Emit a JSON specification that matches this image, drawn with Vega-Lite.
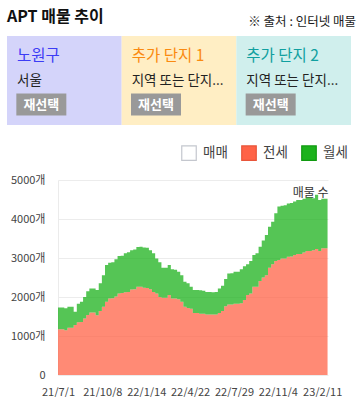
{
  "$schema": "https://vega.github.io/schema/vega-lite/v6.json",
  "padding": {"left": 7, "top": 8, "right": 4, "bottom": 0},
  "title": {"text": "APT 매물 추이", "anchor": "start", "fontSize": 16, "fontWeight": "bold", "color": "#111111", "offset": -9},
  "config": {
    "font": "Noto Sans CJK KR",
    "view": {"stroke": null},
    "concat": {"spacing": 20},
    "title": {"font": "Noto Sans CJK KR"}
  },
  "resolve": {"scale": {"color": "independent"}, "legend": {"color": "independent"}},
  "datasets": {
    "header": [
      {"box": "노원구", "row": "name", "label": "노원구"},
      {"box": "노원구", "row": "sub", "label": "서울"},
      {"box": "노원구", "row": "btn", "label": "재선택"},
      {"box": "추가 단지 1", "row": "name", "label": "추가 단지 1"},
      {"box": "추가 단지 1", "row": "sub", "label": "지역 또는 단지..."},
      {"box": "추가 단지 1", "row": "btn", "label": "재선택"},
      {"box": "추가 단지 2", "row": "name", "label": "추가 단지 2"},
      {"box": "추가 단지 2", "row": "sub", "label": "지역 또는 단지..."},
      {"box": "추가 단지 2", "row": "btn", "label": "재선택"}
    ],
    "listings": [
      {"d": "2021-07-01", "t": "전세", "n": 1170}, {"d": "2021-07-01", "t": "월세", "n": 560},
      {"d": "2021-07-08", "t": "전세", "n": 1170}, {"d": "2021-07-08", "t": "월세", "n": 560},
      {"d": "2021-07-15", "t": "전세", "n": 1150}, {"d": "2021-07-15", "t": "월세", "n": 560},
      {"d": "2021-07-22", "t": "전세", "n": 1210}, {"d": "2021-07-22", "t": "월세", "n": 540},
      {"d": "2021-07-29", "t": "전세", "n": 1210}, {"d": "2021-07-29", "t": "월세", "n": 540},
      {"d": "2021-08-05", "t": "전세", "n": 1280}, {"d": "2021-08-05", "t": "월세", "n": 340},
      {"d": "2021-08-12", "t": "전세", "n": 1350}, {"d": "2021-08-12", "t": "월세", "n": 480},
      {"d": "2021-08-19", "t": "전세", "n": 1360}, {"d": "2021-08-19", "t": "월세", "n": 520},
      {"d": "2021-08-26", "t": "전세", "n": 1450}, {"d": "2021-08-26", "t": "월세", "n": 550},
      {"d": "2021-09-02", "t": "전세", "n": 1540}, {"d": "2021-09-02", "t": "월세", "n": 610},
      {"d": "2021-09-09", "t": "전세", "n": 1600}, {"d": "2021-09-09", "t": "월세", "n": 620},
      {"d": "2021-09-16", "t": "전세", "n": 1600}, {"d": "2021-09-16", "t": "월세", "n": 620},
      {"d": "2021-09-23", "t": "전세", "n": 1530}, {"d": "2021-09-23", "t": "월세", "n": 650},
      {"d": "2021-09-30", "t": "전세", "n": 1640}, {"d": "2021-09-30", "t": "월세", "n": 710},
      {"d": "2021-10-07", "t": "전세", "n": 1750}, {"d": "2021-10-07", "t": "월세", "n": 810},
      {"d": "2021-10-14", "t": "전세", "n": 1880}, {"d": "2021-10-14", "t": "월세", "n": 940},
      {"d": "2021-10-21", "t": "전세", "n": 1960}, {"d": "2021-10-21", "t": "월세", "n": 920},
      {"d": "2021-10-28", "t": "전세", "n": 1970}, {"d": "2021-10-28", "t": "월세", "n": 920},
      {"d": "2021-11-04", "t": "전세", "n": 2010}, {"d": "2021-11-04", "t": "월세", "n": 960},
      {"d": "2021-11-11", "t": "전세", "n": 2090}, {"d": "2021-11-11", "t": "월세", "n": 960},
      {"d": "2021-11-18", "t": "전세", "n": 2100}, {"d": "2021-11-18", "t": "월세", "n": 960},
      {"d": "2021-11-25", "t": "전세", "n": 2120}, {"d": "2021-11-25", "t": "월세", "n": 1000},
      {"d": "2021-12-02", "t": "전세", "n": 2130}, {"d": "2021-12-02", "t": "월세", "n": 1020},
      {"d": "2021-12-09", "t": "전세", "n": 2190}, {"d": "2021-12-09", "t": "월세", "n": 1010},
      {"d": "2021-12-16", "t": "전세", "n": 2200}, {"d": "2021-12-16", "t": "월세", "n": 1020},
      {"d": "2021-12-23", "t": "전세", "n": 2260}, {"d": "2021-12-23", "t": "월세", "n": 1020},
      {"d": "2021-12-30", "t": "전세", "n": 2260}, {"d": "2021-12-30", "t": "월세", "n": 1030},
      {"d": "2022-01-06", "t": "전세", "n": 2240}, {"d": "2022-01-06", "t": "월세", "n": 1030},
      {"d": "2022-01-13", "t": "전세", "n": 2230}, {"d": "2022-01-13", "t": "월세", "n": 1030},
      {"d": "2022-01-20", "t": "전세", "n": 2200}, {"d": "2022-01-20", "t": "월세", "n": 1000},
      {"d": "2022-01-27", "t": "전세", "n": 2130}, {"d": "2022-01-27", "t": "월세", "n": 990},
      {"d": "2022-02-03", "t": "전세", "n": 2090}, {"d": "2022-02-03", "t": "월세", "n": 900},
      {"d": "2022-02-10", "t": "전세", "n": 2000}, {"d": "2022-02-10", "t": "월세", "n": 890},
      {"d": "2022-02-17", "t": "전세", "n": 1980}, {"d": "2022-02-17", "t": "월세", "n": 770},
      {"d": "2022-02-24", "t": "전세", "n": 1980}, {"d": "2022-02-24", "t": "월세", "n": 770},
      {"d": "2022-03-03", "t": "전세", "n": 2050}, {"d": "2022-03-03", "t": "월세", "n": 770},
      {"d": "2022-03-10", "t": "전세", "n": 1960}, {"d": "2022-03-10", "t": "월세", "n": 750},
      {"d": "2022-03-17", "t": "전세", "n": 1960}, {"d": "2022-03-17", "t": "월세", "n": 740},
      {"d": "2022-03-24", "t": "전세", "n": 1940}, {"d": "2022-03-24", "t": "월세", "n": 710},
      {"d": "2022-03-31", "t": "전세", "n": 1880}, {"d": "2022-03-31", "t": "월세", "n": 680},
      {"d": "2022-04-07", "t": "전세", "n": 1750}, {"d": "2022-04-07", "t": "월세", "n": 640},
      {"d": "2022-04-14", "t": "전세", "n": 1720}, {"d": "2022-04-14", "t": "월세", "n": 630},
      {"d": "2022-04-21", "t": "전세", "n": 1700}, {"d": "2022-04-21", "t": "월세", "n": 560},
      {"d": "2022-04-28", "t": "전세", "n": 1590}, {"d": "2022-04-28", "t": "월세", "n": 590},
      {"d": "2022-05-05", "t": "전세", "n": 1590}, {"d": "2022-05-05", "t": "월세", "n": 590},
      {"d": "2022-05-12", "t": "전세", "n": 1570}, {"d": "2022-05-12", "t": "월세", "n": 600},
      {"d": "2022-05-19", "t": "전세", "n": 1570}, {"d": "2022-05-19", "t": "월세", "n": 590},
      {"d": "2022-05-26", "t": "전세", "n": 1550}, {"d": "2022-05-26", "t": "월세", "n": 580},
      {"d": "2022-06-02", "t": "전세", "n": 1550}, {"d": "2022-06-02", "t": "월세", "n": 580},
      {"d": "2022-06-09", "t": "전세", "n": 1550}, {"d": "2022-06-09", "t": "월세", "n": 570},
      {"d": "2022-06-16", "t": "전세", "n": 1550}, {"d": "2022-06-16", "t": "월세", "n": 580},
      {"d": "2022-06-23", "t": "전세", "n": 1590}, {"d": "2022-06-23", "t": "월세", "n": 630},
      {"d": "2022-06-30", "t": "전세", "n": 1640}, {"d": "2022-06-30", "t": "월세", "n": 650},
      {"d": "2022-07-07", "t": "전세", "n": 1760}, {"d": "2022-07-07", "t": "월세", "n": 700},
      {"d": "2022-07-14", "t": "전세", "n": 1810}, {"d": "2022-07-14", "t": "월세", "n": 790},
      {"d": "2022-07-21", "t": "전세", "n": 1810}, {"d": "2022-07-21", "t": "월세", "n": 800},
      {"d": "2022-07-28", "t": "전세", "n": 1830}, {"d": "2022-07-28", "t": "월세", "n": 820},
      {"d": "2022-08-04", "t": "전세", "n": 1830}, {"d": "2022-08-04", "t": "월세", "n": 820},
      {"d": "2022-08-11", "t": "전세", "n": 1840}, {"d": "2022-08-11", "t": "월세", "n": 870},
      {"d": "2022-08-18", "t": "전세", "n": 1920}, {"d": "2022-08-18", "t": "월세", "n": 870},
      {"d": "2022-08-25", "t": "전세", "n": 2050}, {"d": "2022-08-25", "t": "월세", "n": 790},
      {"d": "2022-09-01", "t": "전세", "n": 2090}, {"d": "2022-09-01", "t": "월세", "n": 830},
      {"d": "2022-09-08", "t": "전세", "n": 2260}, {"d": "2022-09-08", "t": "월세", "n": 820},
      {"d": "2022-09-15", "t": "전세", "n": 2260}, {"d": "2022-09-15", "t": "월세", "n": 860},
      {"d": "2022-09-22", "t": "전세", "n": 2410}, {"d": "2022-09-22", "t": "월세", "n": 880},
      {"d": "2022-09-29", "t": "전세", "n": 2500}, {"d": "2022-09-29", "t": "월세", "n": 950},
      {"d": "2022-10-06", "t": "전세", "n": 2560}, {"d": "2022-10-06", "t": "월세", "n": 1030},
      {"d": "2022-10-13", "t": "전세", "n": 2750}, {"d": "2022-10-13", "t": "월세", "n": 1050},
      {"d": "2022-10-20", "t": "전세", "n": 2840}, {"d": "2022-10-20", "t": "월세", "n": 1090},
      {"d": "2022-10-27", "t": "전세", "n": 2920}, {"d": "2022-10-27", "t": "월세", "n": 1230},
      {"d": "2022-11-03", "t": "전세", "n": 2950}, {"d": "2022-11-03", "t": "월세", "n": 1370},
      {"d": "2022-11-10", "t": "전세", "n": 2990}, {"d": "2022-11-10", "t": "월세", "n": 1350},
      {"d": "2022-11-17", "t": "전세", "n": 2990}, {"d": "2022-11-17", "t": "월세", "n": 1360},
      {"d": "2022-11-24", "t": "전세", "n": 3030}, {"d": "2022-11-24", "t": "월세", "n": 1370},
      {"d": "2022-12-01", "t": "전세", "n": 3040}, {"d": "2022-12-01", "t": "월세", "n": 1370},
      {"d": "2022-12-08", "t": "전세", "n": 3080}, {"d": "2022-12-08", "t": "월세", "n": 1370},
      {"d": "2022-12-15", "t": "전세", "n": 3100}, {"d": "2022-12-15", "t": "월세", "n": 1390},
      {"d": "2022-12-22", "t": "전세", "n": 3100}, {"d": "2022-12-22", "t": "월세", "n": 1390},
      {"d": "2022-12-29", "t": "전세", "n": 3140}, {"d": "2022-12-29", "t": "월세", "n": 1380},
      {"d": "2023-01-05", "t": "전세", "n": 3180}, {"d": "2023-01-05", "t": "월세", "n": 1370},
      {"d": "2023-01-12", "t": "전세", "n": 3180}, {"d": "2023-01-12", "t": "월세", "n": 1370},
      {"d": "2023-01-19", "t": "전세", "n": 3200}, {"d": "2023-01-19", "t": "월세", "n": 1330},
      {"d": "2023-01-26", "t": "전세", "n": 3230}, {"d": "2023-01-26", "t": "월세", "n": 1390},
      {"d": "2023-02-02", "t": "전세", "n": 3180}, {"d": "2023-02-02", "t": "월세", "n": 1310},
      {"d": "2023-02-09", "t": "전세", "n": 3250}, {"d": "2023-02-09", "t": "월세", "n": 1270},
      {"d": "2023-02-16", "t": "전세", "n": 3250}, {"d": "2023-02-16", "t": "월세", "n": 1270},
      {"d": "2023-02-23", "t": "전세", "n": 3180}, {"d": "2023-02-23", "t": "월세", "n": 1270}
    ]
  },
  "vconcat": [
    {
      "width": 293,
      "height": 89,
      "title": {"text": "※ 출처 : 인터넷 매물", "anchor": "end", "fontSize": 12.5, "fontWeight": "normal", "color": "#1a1a1a", "offset": 8, "dx": 5},
      "data": {"name": "header"},
      "encoding": {
        "x": {"field": "box", "type": "nominal", "axis": null, "scale": {"domain": ["노원구", "추가 단지 1", "추가 단지 2"], "range": [-51, 293], "paddingInner": 0, "paddingOuter": 0}}
      },
      "layer": [
        {
          "transform": [{"filter": "datum.row === 'name'"}],
          "mark": {"type": "rect"},
          "encoding": {
            "fill": {"condition": [{"test": "datum.box === '노원구'", "value": "#d4d4fa"}, {"test": "datum.box === '추가 단지 1'", "value": "#ffeec4"}], "value": "#d0efed"}
          }
        },
        {
          "transform": [{"filter": "datum.row === 'btn'"}],
          "mark": {"type": "rect", "width": 50, "height": 22, "xOffset": -23, "fill": "#999999"},
          "encoding": {
            "y": {"field": "row", "type": "nominal", "axis": null, "scale": {"domain": ["name", "sub", "btn"], "paddingInner": 0, "paddingOuter": 0.35}}
          }
        },
        {
          "transform": [{"filter": "datum.row === 'name'"}],
          "mark": {"type": "text", "align": "left", "baseline": "middle", "dx": 10, "fontSize": 15.5},
          "encoding": {
            "x": {"field": "box", "type": "nominal", "bandPosition": 0, "axis": null},
            "y": {"field": "row", "type": "nominal", "axis": null},
            "text": {"field": "label"},
            "fill": {"condition": [{"test": "datum.box === '노원구'", "value": "#3c3cf5"}, {"test": "datum.box === '추가 단지 1'", "value": "#fa8a10"}], "value": "#10a0a0"}
          }
        },
        {
          "transform": [{"filter": "datum.row === 'sub'"}],
          "mark": {"type": "text", "align": "left", "baseline": "middle", "dx": 10, "fontSize": 13.5, "fill": "#222222"},
          "encoding": {
            "x": {"field": "box", "type": "nominal", "bandPosition": 0, "axis": null},
            "y": {"field": "row", "type": "nominal", "axis": null},
            "text": {"field": "label"}
          }
        },
        {
          "transform": [{"filter": "datum.row === 'btn'"}],
          "mark": {"type": "text", "align": "center", "baseline": "middle", "dx": -23, "fontSize": 13, "fontWeight": "bold", "fill": "#ffffff"},
          "encoding": {
            "y": {"field": "row", "type": "nominal", "axis": null},
            "text": {"field": "label"}
          }
        }
      ]
    },
    {
      "width": 270,
      "height": 195,
      "data": {"name": "listings"},
      "mark": {"type": "area", "interpolate": "step-after", "fillOpacity": 0.75},
      "encoding": {
        "x": {
          "field": "d", "type": "temporal",
          "scale": {"type": "utc", "domain": [{"year": 2021, "month": 7, "date": 1, "utc": true}, {"year": 2023, "month": 2, "date": 24, "utc": true}]},
          "axis": {
            "title": null, "domain": false, "ticks": false, "grid": false,
            "values": [
              {"year": 2021, "month": 7, "date": 1, "utc": true},
              {"year": 2021, "month": 10, "date": 8, "utc": true},
              {"year": 2022, "month": 1, "date": 14, "utc": true},
              {"year": 2022, "month": 4, "date": 22, "utc": true},
              {"year": 2022, "month": 7, "date": 29, "utc": true},
              {"year": 2022, "month": 11, "date": 4, "utc": true},
              {"year": 2023, "month": 2, "date": 11, "utc": true}
            ],
            "labelExpr": "utcFormat(datum.value, '%y/%-m/%-d')",
            "labelFlush": false, "labelOverlap": false, "labelBound": false,
            "labelFontSize": 11, "labelColor": "#444444", "labelPadding": 11
          }
        },
        "y": {
          "field": "n", "type": "quantitative", "stack": "zero",
          "scale": {"domain": [0, 5000], "nice": false},
          "axis": {
            "title": "매물 수", "titleAngle": 0, "titleAlign": "right", "titleBaseline": "middle",
            "titleX": 270, "titleY": 12, "titleFontSize": 12, "titleFontWeight": "normal", "titleColor": "#333333",
            "values": [0, 1000, 2000, 3000, 4000, 5000],
            "labelExpr": "datum.value == 0 ? '0' : datum.value + '개'",
            "labelFontSize": 11, "labelColor": "#444444", "labelPadding": 13,
            "ticks": false, "domainColor": "#ebebeb", "gridColor": "#ececec",
            "minExtent": 51, "maxExtent": 51
          }
        },
        "color": {
          "field": "t", "type": "nominal",
          "scale": {"domain": ["매매", "전세", "월세"], "range": ["#ffffff", "#ff6347", "#1cb21c"]},
          "legend": {
            "title": null, "orient": "none", "legendX": 123, "legendY": -35, "direction": "horizontal",
            "symbolType": "square", "symbolSize": 210, "labelFontSize": 13.5, "labelColor": "#444444",
            "labelOffset": 6, "columnPadding": 11, "padding": 0,
            "encode": {
              "symbols": {
                "update": {
                  "opacity": {"value": 1},
                  "fillOpacity": {"value": 1},
                  "strokeWidth": {"value": 1.2},
                  "stroke": {"signal": "datum.value === '매매' ? '#c4c7ce' : datum.value === '전세' ? '#e8553a' : '#109a10'"}
                }
              }
            }
          }
        }
      }
    }
  ]
}
